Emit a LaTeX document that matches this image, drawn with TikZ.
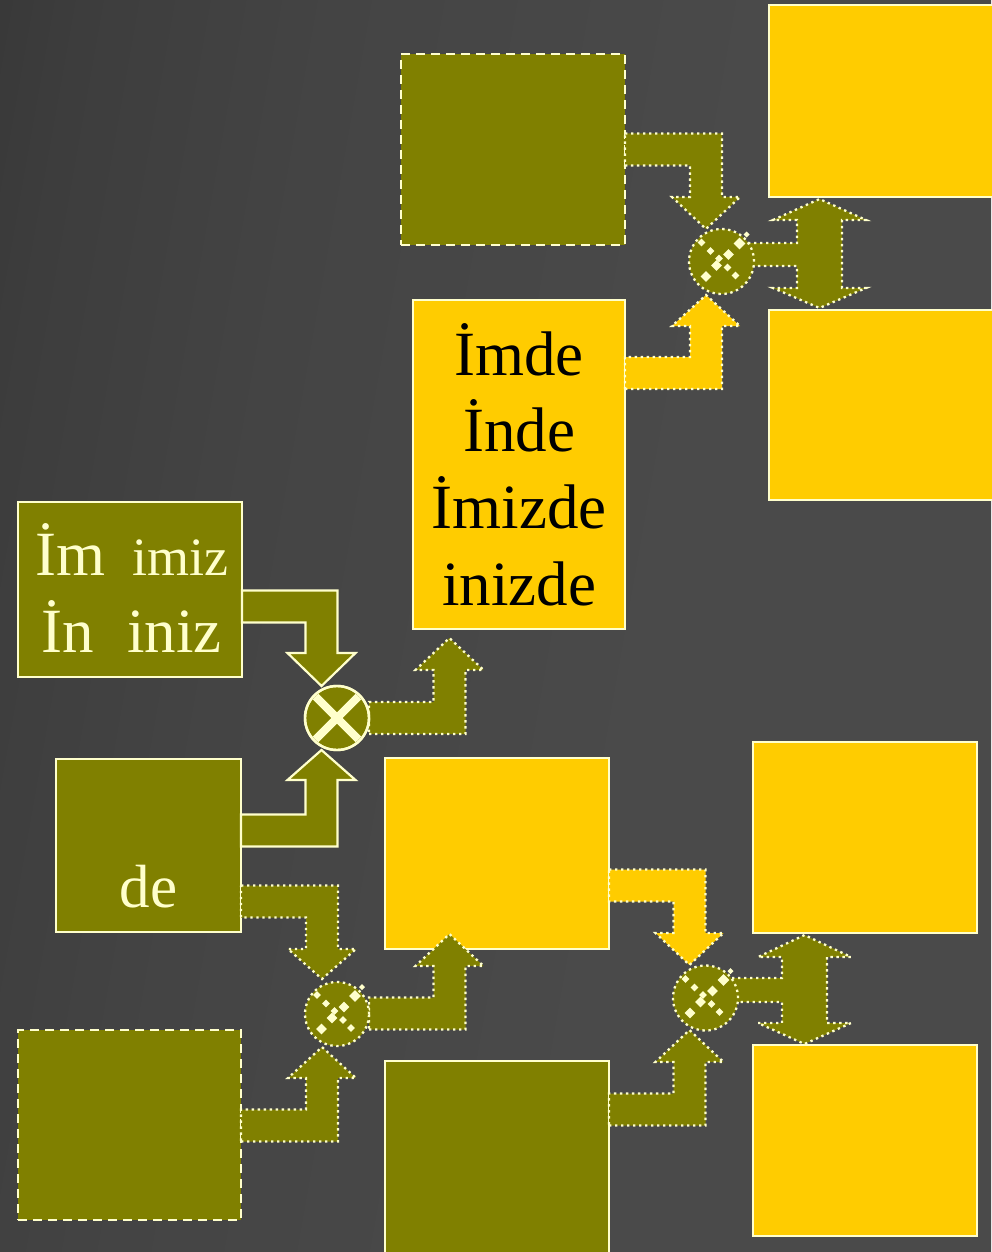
\documentclass[tikz,border=0pt]{standalone}
\usepackage{fontspec}
\setmainfont{Liberation Serif}
\usetikzlibrary{calc}
\definecolor{oliveC}{HTML}{808000}
\definecolor{goldC}{HTML}{FFCC00}
\definecolor{creamC}{HTML}{FFFFCC}
\definecolor{bgA}{HTML}{313131}
\definecolor{bgM}{HTML}{3D3D3D}
\definecolor{bgN}{HTML}{444444}
\definecolor{bgB}{HTML}{4A4A4A}
\pgfdeclarehorizontalshading{bgshade}{100bp}{color(0bp)=(bgA); color(13bp)=(bgA); color(25bp)=(bgM); color(37bp)=(bgN); color(58bp)=(bgB); color(100bp)=(bgB)}
\tikzset{
  box/.style={rectangle, draw=creamC, line width=2.2pt, inner sep=0pt, outer sep=0pt},
  obox/.style={box, fill=oliveC, text=creamC},
  gbox/.style={box, fill=goldC, text=black},
  dashbox/.style={obox, dash pattern=on 9pt off 6pt},
  solidarrow/.style={fill=oliveC, draw=creamC, line width=2.2pt, line join=miter},
  dotarrow/.style={draw=creamC, line width=2.3pt, dash pattern=on 2.4pt off 3.6pt},
  odot/.style={dotarrow, fill=oliveC},
  gdot/.style={dotarrow, fill=goldC},
  dotcircle/.style={circle, fill=oliveC, draw=creamC, line width=2.3pt, dash pattern=on 2.4pt off 3.6pt, inner sep=0pt, outer sep=0pt},
  solidcircle/.style={circle, fill=oliveC, draw=creamC, line width=2.4pt, inner sep=0pt, outer sep=0pt},
  big/.style={font=\fontsize{63}{76.7}\selectfont},
  mid/.style={font=\fontsize{54}{60}\selectfont},
}
% bent block arrow: #1 style, #2 x0, #3 yc (shaft centre), #4 xc (vertical shaft centre), #5 y of wings, #6 y of tip
\newcommand{\bentarrow}[6]{%
  \pgfmathsetmacro{\bsgn}{sign(#6-#3)}%
  \draw[#1] (#2,{#3-\bsgn*16}) -- ({#4+16},{#3-\bsgn*16}) -- ({#4+16},#5) -- ({#4+34},#5) -- (#4,#6)
    -- ({#4-34},#5) -- ({#4-16},#5) -- ({#4-16},{#3+\bsgn*16}) -- (#2,{#3+\bsgn*16}) -- cycle;}
% double block arrow: #1 x0, #2 y1, #3 y2 (shaft), #4 xl, #5 xr (vertical shaft), #6 wing top, #7 wing bottom, #8 tip top, #9 tip bottom
\newcommand{\dblarrow}[9]{%
  \pgfmathsetmacro{\xm}{(#4+#5)/2}%
  \pgfmathsetmacro{\ww}{(#5-#4)/2+24}%
  \draw[odot] (#1,#2) -- (#4,#2) -- (#4,#6) -- ({\xm-\ww},#6) -- (\xm,#8) -- ({\xm+\ww},#6) -- (#5,#6)
    -- (#5,#7) -- ({\xm+\ww},#7) -- (\xm,#9) -- ({\xm-\ww},#7) -- (#4,#7) -- (#4,#3) -- (#1,#3) -- cycle;}
% shattered cross inside a dotted circle
\newcommand{\shard}[4]{\fill[creamC] ($(#1)+(#2,#3)$) +(0,-#4) -- +(#4,0) -- +(0,#4) -- +(-#4,0) -- cycle;}
\newcommand{\shattered}[1]{%
  \shard{#1}{-20}{-19}{3.8}\shard{#1}{18}{-18}{5.8}\shard{#1}{-11}{-10.5}{3.8}%
  \shard{#1}{7}{-7}{5.3}\shard{#1}{-2.5}{-3}{3.8}\shard{#1}{-5}{4}{5.3}%
  \shard{#1}{6}{6}{3.8}\shard{#1}{-15.5}{15}{5.3}\shard{#1}{14}{14}{3.8}\shard{#1}{25}{-27}{3}}
\begin{document}
\begin{tikzpicture}[x=1pt,y=-1pt]
\useasboundingbox (0,0) rectangle (991,1252);
\shade[shading=bgshade, shading angle=-10] (0,0) rectangle (991,1252);

% boxes
\node[dashbox, minimum width=224pt, minimum height=191pt] (b1) at (513,149.5) {};
\node[gbox, minimum width=231pt, minimum height=192pt] (b2) at (884.5,101) {};
\node[gbox, minimum width=231pt, minimum height=190pt] (b3) at (884.5,405) {};
\node[gbox, minimum width=212pt, minimum height=329pt, align=center, big] (b4) at (519,464.5) {İmde\\İnde\\İmizde\\inizde};
\node[obox, minimum width=224pt, minimum height=175pt] (b5) at (130,589.5) {};
\node[obox, minimum width=185pt, minimum height=173pt] (b6) at (148.5,845.5) {};
\node[dashbox, minimum width=223pt, minimum height=190pt] (b7) at (129.5,1125) {};
\node[gbox, minimum width=224pt, minimum height=191pt] (b8) at (497,853.5) {};
\node[obox, minimum width=224pt, minimum height=199pt] (b9) at (497,1160.5) {};
\node[gbox, minimum width=224pt, minimum height=191pt] (b10) at (865,837.5) {};
\node[gbox, minimum width=224pt, minimum height=191pt] (b11) at (865,1140.5) {};

% texts of the olive boxes
\node[big, text=creamC, anchor=base west, inner sep=0pt] (t1) at (35,575) {İm};
\node[mid, text=creamC, anchor=base west, inner sep=0pt] (t2) at (132,575) {imiz};
\node[big, text=creamC, anchor=base west, inner sep=0pt] (t3) at (41,652) {İn};
\node[big, text=creamC, anchor=base west, inner sep=0pt] (t4) at (127,652) {iniz};
\node[font=\fontsize{61}{70}\selectfont, text=creamC, anchor=base, inner sep=0pt] (t5) at (148.5,907) {de};

% block arrows
\bentarrow{solidarrow}{242}{606.5}{321.5}{653}{686}
\bentarrow{solidarrow}{241}{830.5}{321.5}{780}{750}
\bentarrow{odot}{369}{718}{449.5}{670}{638}
\bentarrow{odot}{625}{149.5}{706}{197}{229}
\bentarrow{gdot}{625}{373}{706}{326}{295}
\bentarrow{odot}{241}{901.5}{322}{949}{979}
\bentarrow{odot}{241}{1125.5}{322}{1078}{1047}
\bentarrow{odot}{369}{1013.5}{449.5}{966}{934}
\bentarrow{gdot}{609}{885.5}{689.5}{933}{965}
\bentarrow{odot}{609}{1109.5}{689.5}{1062}{1030}
\dblarrow{748}{243}{266}{797}{842}{220}{288}{199}{308}
\dblarrow{732}{978}{1002}{782}{827}{957}{1023}{935}{1044}

% junction circles
\node[solidcircle, minimum size=64pt] (cA) at (337,718) {};
\begin{scope}
  \clip (cA) circle (30.5pt);
  \draw[creamC, line width=8pt] ($(cA)+(-30,-30)$) -- ($(cA)+(30,30)$);
  \draw[creamC, line width=8pt] ($(cA)+(-30,30)$) -- ($(cA)+(30,-30)$);
\end{scope}
\draw[creamC, line width=2.4pt] (cA) circle (32pt);
\node[dotcircle, minimum size=65pt] (cB) at (721.5,261.5) {};
\node[dotcircle, minimum size=64pt] (cC) at (337,1014) {};
\node[dotcircle, minimum size=65pt] (cD) at (705.5,998) {};
\shattered{cB}
\shattered{cC}
\shattered{cD}
\end{tikzpicture}
\end{document}
